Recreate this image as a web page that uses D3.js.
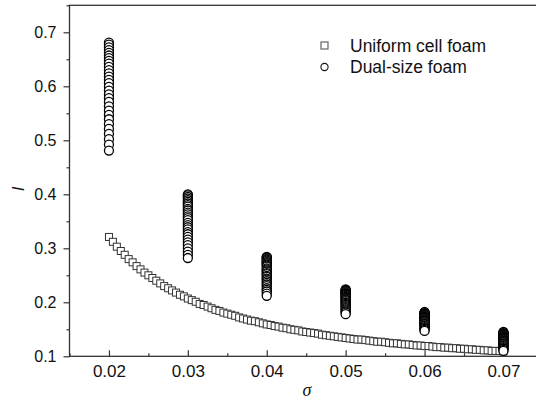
<!DOCTYPE html>
<html>
<head>
<meta charset="utf-8">
<script src="https://cdn.jsdelivr.net/npm/d3@7"></script>
<style>
  body { margin: 0; background: #fff; }
  svg { display: block; }
</style>
</head>
<body>
<div id="chart"></div>
<script>
// Values

// Uniform cell foam: sigma and I
var uniformSigma = [
    0.0200, 0.0205, 0.0210, 0.0215, 0.0220, 0.0225, 0.0230, 0.0235, 0.0240, 0.0245,
    0.0250, 0.0255, 0.0260, 0.0265, 0.0270, 0.0275, 0.0280, 0.0285, 0.0290, 0.0295,
    0.0300, 0.0305, 0.0310, 0.0315, 0.0320, 0.0325, 0.0330, 0.0335, 0.0340, 0.0345,
    0.0350, 0.0355, 0.0360, 0.0365, 0.0370, 0.0375, 0.0380, 0.0385, 0.0390, 0.0395,
    0.0400, 0.0405, 0.0410, 0.0415, 0.0420, 0.0425, 0.0430, 0.0435, 0.0440, 0.0445,
    0.0450, 0.0455, 0.0460, 0.0465, 0.0470, 0.0475, 0.0480, 0.0485, 0.0490, 0.0495,
    0.0500, 0.0505, 0.0510, 0.0515, 0.0520, 0.0525, 0.0530, 0.0535, 0.0540, 0.0545,
    0.0550, 0.0555, 0.0560, 0.0565, 0.0570, 0.0575, 0.0580, 0.0585, 0.0590, 0.0595,
    0.0600, 0.0605, 0.0610, 0.0615, 0.0620, 0.0625, 0.0630, 0.0635, 0.0640, 0.0645,
    0.0650, 0.0655, 0.0660, 0.0665, 0.0670, 0.0675, 0.0680, 0.0685, 0.0690, 0.0695,
    0.0700
];
var uniformI = [
    0.321, 0.312, 0.303, 0.295, 0.288, 0.280, 0.274, 0.267, 0.261, 0.255,
    0.250, 0.245, 0.240, 0.235, 0.230, 0.226, 0.222, 0.218, 0.214, 0.211,
    0.207, 0.204, 0.201, 0.197, 0.195, 0.192, 0.189, 0.186, 0.184, 0.181,
    0.179, 0.177, 0.175, 0.172, 0.170, 0.168, 0.166, 0.165, 0.163, 0.161,
    0.159, 0.158, 0.156, 0.155, 0.153, 0.152, 0.150, 0.149, 0.148, 0.146,
    0.145, 0.144, 0.143, 0.142, 0.140, 0.139, 0.138, 0.137, 0.136, 0.135,
    0.134, 0.133, 0.132, 0.131, 0.131, 0.130, 0.129, 0.128, 0.127, 0.127,
    0.126, 0.125, 0.124, 0.124, 0.123, 0.122, 0.122, 0.121, 0.120, 0.120,
    0.119, 0.119, 0.118, 0.117, 0.117, 0.116, 0.116, 0.115, 0.115, 0.114,
    0.114, 0.113, 0.113, 0.112, 0.112, 0.111, 0.111, 0.110, 0.110, 0.110,
    0.109
];

// Dual-size foam: one column of I values per sigma
var dualSigma = [0.02, 0.03, 0.04, 0.05, 0.06, 0.07];
var dual02 = [0.481, 0.492, 0.502, 0.512, 0.521, 0.530, 0.539, 0.547, 0.555, 0.563,
              0.571, 0.578, 0.585, 0.592, 0.599, 0.606, 0.612, 0.618, 0.624, 0.630,
              0.636, 0.642, 0.647, 0.652, 0.657, 0.662, 0.667, 0.672, 0.677, 0.681];
var dual03 = [0.282, 0.288, 0.294, 0.300, 0.306, 0.311, 0.316, 0.321, 0.326, 0.330,
              0.335, 0.339, 0.343, 0.347, 0.352, 0.356, 0.359, 0.363, 0.366, 0.370,
              0.373, 0.377, 0.380, 0.383, 0.386, 0.389, 0.392, 0.395, 0.398, 0.400];
var dual04 = [0.212, 0.216, 0.220, 0.223, 0.226, 0.230, 0.233, 0.236, 0.239, 0.242,
              0.244, 0.247, 0.249, 0.252, 0.254, 0.257, 0.259, 0.261, 0.263, 0.266,
              0.268, 0.270, 0.272, 0.274, 0.275, 0.277, 0.279, 0.281, 0.283, 0.284];
var dual05 = [0.178, 0.181, 0.183, 0.185, 0.187, 0.189, 0.191, 0.193, 0.195, 0.197,
              0.199, 0.200, 0.202, 0.204, 0.205, 0.207, 0.208, 0.210, 0.211, 0.212,
              0.214, 0.215, 0.216, 0.217, 0.218, 0.220, 0.221, 0.222, 0.223, 0.224];
var dual06 = [0.147, 0.149, 0.151, 0.152, 0.154, 0.156, 0.157, 0.159, 0.160, 0.161,
              0.163, 0.164, 0.165, 0.166, 0.168, 0.169, 0.170, 0.171, 0.172, 0.173,
              0.174, 0.175, 0.176, 0.177, 0.178, 0.179, 0.180, 0.180, 0.181, 0.182];
var dual07 = [0.110, 0.112, 0.114, 0.115, 0.117, 0.119, 0.120, 0.122, 0.123, 0.124,
              0.126, 0.127, 0.128, 0.129, 0.131, 0.132, 0.133, 0.134, 0.135, 0.136,
              0.137, 0.138, 0.139, 0.140, 0.141, 0.142, 0.143, 0.143, 0.144, 0.145];
var dualColumns = [dual02, dual03, dual04, dual05, dual06, dual07];

// Ticks and labels
var xTicks = [0.02, 0.03, 0.04, 0.05, 0.06, 0.07];
var xMinorTicks = [0.015, 0.025, 0.035, 0.045, 0.055, 0.065, 0.075];
var yTicks = [0.1, 0.2, 0.3, 0.4, 0.5, 0.6, 0.7];
var yMinorTicks = [0.15, 0.25, 0.35, 0.45, 0.55, 0.65, 0.75];
var legendLabels = ["Uniform cell foam", "Dual-size foam"];

var width = 536, height = 400;
var margin = { top: 5.3, left: 69.5 };
var plotW = 473.4, plotH = 351;

var svg = d3.select("#chart")
    .append("svg")
    .attr("width", width)
    .attr("height", height);

var g = svg.append("g")
    .attr("transform", "translate(" + margin.left + "," + margin.top + ")");

var xScale = d3.scaleLinear().domain([0.015, 0.075]).range([0, plotW]);
var yScale = d3.scaleLinear().domain([0.1, 0.75]).range([plotH, 0]);

// Y axis: major ticks point outward
var yAxisG = g.append("g")
    .call(d3.axisLeft(yScale).tickValues(yTicks).tickSize(6).tickPadding(7)
        .tickFormat(d3.format(".1f")));
g.append("g")
    .call(d3.axisLeft(yScale).tickValues(yMinorTicks).tickSize(3).tickFormat(""));

// X axis: ticks point into the plot
var xAxisG = g.append("g")
    .attr("transform", "translate(0," + plotH + ")")
    .call(d3.axisBottom(xScale).tickValues(xTicks).tickSizeInner(-6).tickSizeOuter(0)
        .tickPadding(9).tickFormat(d3.format(".2f")));
g.append("g")
    .attr("transform", "translate(0," + plotH + ")")
    .call(d3.axisBottom(xScale).tickValues(xMinorTicks).tickSizeInner(-3).tickSizeOuter(0)
        .tickFormat(""));

g.selectAll(".domain").remove();
g.selectAll(".tick line").attr("stroke", "#333").attr("stroke-width", 1.2);
yAxisG.selectAll("text")
    .style("font-family", "Liberation Sans, Arial, sans-serif")
    .style("font-size", "16px")
    .attr("fill", "#111");
xAxisG.selectAll("text")
    .style("font-family", "Liberation Sans, Arial, sans-serif")
    .style("font-size", "17px")
    .attr("fill", "#111");

// Frame round the plot (right side falls outside the picture)
g.append("rect")
    .attr("x", 0)
    .attr("y", 0)
    .attr("width", plotW)
    .attr("height", plotH)
    .attr("fill", "none")
    .attr("stroke", "#333")
    .attr("stroke-width", 1.3);

// Uniform cell foam squares, later ones drawn over earlier ones
var sq = 7;
g.append("g").selectAll("rect")
    .data(uniformSigma)
    .enter()
    .append("rect")
    .attr("x", function (d) { return xScale(d) - sq / 2; })
    .attr("y", function (d, i) { return yScale(uniformI[i]) - sq / 2; })
    .attr("width", sq)
    .attr("height", sq)
    .attr("fill", "white")
    .attr("stroke", "#333")
    .attr("stroke-width", 1);

// Dual-size foam circles: draw from the top down so the lowest is on top
var circleData = [];
for (var c = 0; c < dualSigma.length; c++) {
    var col = dualColumns[c].slice().sort(function (a, b) { return b - a; });
    for (var k = 0; k < col.length; k++)
        circleData.push({ x: dualSigma[c], y: col[k] });
}
g.append("g").selectAll("circle")
    .data(circleData)
    .enter()
    .append("circle")
    .attr("cx", function (d) { return xScale(d.x); })
    .attr("cy", function (d) { return yScale(d.y); })
    .attr("r", 4.5)
    .attr("fill", "white")
    .attr("stroke", "#000")
    .attr("stroke-width", 1.3);

// Axis titles
svg.append("text")
    .attr("transform", "translate(24,189) rotate(-90)")
    .attr("text-anchor", "middle")
    .style("font-family", "Liberation Sans, Arial, sans-serif")
    .style("font-style", "italic")
    .style("font-size", "17px")
    .attr("fill", "#111")
    .text("I");

svg.append("text")
    .attr("x", 307)
    .attr("y", 396)
    .attr("text-anchor", "middle")
    .style("font-family", "Liberation Serif, Times New Roman, serif")
    .style("font-style", "italic")
    .style("font-size", "18px")
    .attr("fill", "#111")
    .text("σ");

// Legend
var legend = svg.append("g");
var legendY = [45.5, 67];
legend.append("rect")
    .attr("x", 321)
    .attr("y", legendY[0] - 3.5)
    .attr("width", 7)
    .attr("height", 7)
    .attr("fill", "white")
    .attr("stroke", "#666")
    .attr("stroke-width", 1.2);
legend.append("circle")
    .attr("cx", 324.5)
    .attr("cy", legendY[1])
    .attr("r", 3.6)
    .attr("fill", "white")
    .attr("stroke", "#111")
    .attr("stroke-width", 1.1);
legend.selectAll("text")
    .data(legendLabels)
    .enter()
    .append("text")
    .attr("x", 350)
    .attr("y", function (d, i) { return legendY[i] + 6.2; })
    .style("font-family", "Liberation Sans, Arial, sans-serif")
    .style("font-size", "17.5px")
    .attr("fill", "#111")
    .text(function (d) { return d; });
</script>
</body>
</html>
